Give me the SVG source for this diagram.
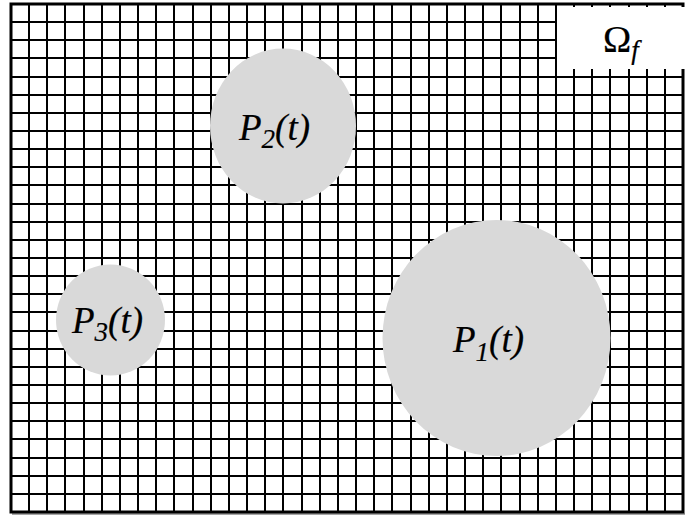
<svg xmlns="http://www.w3.org/2000/svg" width="691" height="516" viewBox="0 0 691 516">
<style>
.grid{fill:none;stroke:#000;stroke-width:2}
.frame{fill:none;stroke:#000;stroke-width:3}
.part{fill:#d9d9d9;stroke:none}
.lbl{font-family:"Liberation Serif",serif;font-style:italic;font-size:37px;fill:#000;stroke:#000;stroke-width:0.2}
.sub{font-size:27px}
.omega{font-family:"Liberation Serif",serif;font-size:38px;fill:#000;stroke:#000;stroke-width:0.2}
</style>
<rect x="0" y="0" width="691" height="516" fill="#fff"/>
<g id="mesh">
<path class="grid" d="M29,4V512M47,4V512M65,4V512M84,4V512M102,4V512M120,4V512M138,4V512M156,4V512M174,4V512M193,4V512M211,4V512M229,4V512M247,4V512M265,4V512M283,4V512M302,4V512M320,4V512M338,4V512M356,4V512M374,4V512M392,4V512M411,4V512M429,4V512M447,4V512M465,4V512M483,4V512M501,4V512M520,4V512M538,4V512M556,4V512M574,4V512M592,4V512M610,4V512M629,4V512M647,4V512M665,4V512"/>
<path class="grid" d="M11,22H683M11,40H683M11,58H683M11,77H683M11,95H683M11,113H683M11,131H683M11,149H683M11,167H683M11,185H683M11,204H683M11,222H683M11,240H683M11,258H683M11,276H683M11,294H683M11,312H683M11,331H683M11,349H683M11,367H683M11,385H683M11,403H683M11,421H683M11,439H683M11,458H683M11,476H683M11,494H683"/>
<line x1="12" y1="514" x2="685" y2="514" stroke="#888" stroke-width="1.5"/>
<rect class="frame" x="11" y="4" width="672" height="508"/>
</g>
<g id="omega-label">
<rect x="557" y="7" width="134" height="62" fill="#fff"/>
<text class="omega" x="603" y="52">Ω<tspan font-style="italic" font-size="27" dy="7">f</tspan></text>
</g>
<g id="P1">
<ellipse class="part" cx="496.5" cy="338" rx="114" ry="118"/>
<text class="lbl" x="453" y="352">P<tspan class="sub" dy="9">1</tspan><tspan dy="-9">(t)</tspan></text>
</g>
<g id="P2">
<ellipse class="part" cx="283" cy="126" rx="73" ry="77.5"/>
<text class="lbl" x="239" y="140">P<tspan class="sub" dy="8">2</tspan><tspan dy="-8">(t)</tspan></text>
</g>
<g id="P3">
<ellipse class="part" cx="110.5" cy="320" rx="54.5" ry="55.5"/>
<text class="lbl" x="72" y="333">P<tspan class="sub" dy="8">3</tspan><tspan dy="-8">(t)</tspan></text>
</g>
</svg>
